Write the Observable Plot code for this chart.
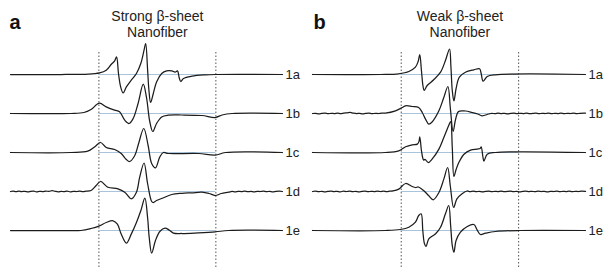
<!DOCTYPE html>
<html><head><meta charset="utf-8">
<script src="https://cdn.jsdelivr.net/npm/d3@7"></script>
<script src="https://cdn.jsdelivr.net/npm/@observablehq/plot@0.6"></script>
<style>
body{margin:0;background:#fff}
#wrap{display:flex;width:613px;height:277px;overflow:hidden}
</style>
</head><body><div id="wrap"></div>
<script>
// ---- data (field in arbitrary units 0–100, amplitude in a.u.) ----
const traceLabels = ["1a", "1b", "1c", "1d", "1e"];
const traceSpacing = 39;
const markerFields = [32.5, 75.5];
const panelLetters = ["a", "b"];
const panelTitles = ["Strong β-sheet\nNanofiber", "Weak β-sheet\nNanofiber"];

// Panel a: Strong β-sheet nanofiber
const strong1a = [[0,0],[18.5,0],[28.5,0.3],[32.7,1.6],[35.2,4.3],[37.0,10],[38.3,13.6],[39.0,17.6],[39.7,1],[40.5,-12.4],[41.4,-18.4],[42.6,-12.4],[44.4,-5.7],[46.3,1],[47.9,11],[49.1,24.3],[49.7,31],[50.4,5],[50.9,-16],[51.5,-28],[52.5,-19],[53.7,-7.4],[55.6,1],[57.4,3.6],[59.3,3.6],[60.5,2.4],[61.4,3.6],[62.0,-3],[62.6,-7],[63.6,-4],[66.7,-1.7],[71.6,-0.4],[75.3,0],[100,0]];
const strong1b = [[0,0],[22.2,0],[27.0,1],[29.6,4],[32.7,10.3],[35.2,6.6],[38.3,3.3],[40.1,1.7],[42.0,-6.7],[43.6,-10],[45.1,-5],[46.9,10],[48.8,29.3],[50.0,16],[51.2,-8],[52.3,-18],[53.7,-10],[55.6,-3.4],[58.0,-1.7],[63.0,-1.5],[70.4,-2],[75.3,-4],[77.8,-1.5],[81.5,0],[100,0]];
const strong1c = [[0,0],[22.2,0],[28.4,1.3],[30.9,5.6],[33.1,10],[35.2,5],[38.3,3],[40.7,-1],[42.6,-7],[43.8,-9],[45.7,-3],[47.1,9],[49.0,24],[50.6,7],[51.9,-11],[53.3,-15.4],[54.9,-4.4],[56.2,0],[58.0,-1],[69.1,-1],[75.3,-2.7],[79.0,0],[100,0]];
const strong1d = [[0,0],[1,0.3],[2,-0.2],[3.2,0.4],[4,-0.1],[5.3,0.2],[6.5,-0.4],[7.4,0.1],[8.6,0.3],[9.5,-0.3],[10.7,0.2],[11.8,-0.1],[13,0.4],[14.2,0.1],[15.3,0.9],[16.4,0.2],[17.5,-0.3],[18.7,0.2],[19.6,-0.2],[20.8,0.3],[22,-0.3],[23.1,0.2],[24.3,0],[25.4,0.4],[26.6,-0.1],[27.8,0.3],[29.6,1],[31.5,6],[33.1,10],[35.8,4.3],[39.5,2.7],[42.0,-0.7],[44.4,-7.3],[46.3,-0.7],[47.5,14.3],[49.1,28.5],[50.4,8],[51.9,-10],[52.5,-11],[53.7,-9],[55.6,-7],[59.3,-3],[63,-1.8],[66.7,-1.3],[70.4,-0.7],[73,-2],[75.3,-4],[77.5,-2],[80.2,-0.7],[81.4,0.1],[82.6,-0.3],[83.7,0.2],[84.9,-0.1],[86.1,0.3],[87.2,-0.2],[88.4,0.1],[89.5,-0.4],[90.7,0.2],[91.8,0],[93,0.3],[94.1,-0.2],[95.3,0.2],[96.4,-0.3],[97.6,0.1],[98.8,0.3],[100,0]];
const strong1e = [[0,0],[18.5,0],[25.9,0],[29.6,2],[32.7,4.7],[35.2,8],[37.7,9.7],[39.3,6.4],[40.7,-3.6],[42.6,-12.6],[44.4,-3.6],[46.3,8],[47.9,19.7],[49.4,32.4],[50.4,13],[51.0,-7],[51.9,-22.6],[53.3,-10],[54.9,-1],[56.8,2.4],[58.3,0.5],[59.9,-2.6],[63.0,-3],[69.1,-2.3],[75.3,-1.3],[80.2,0],[100,0]];

// Panel b: Weak β-sheet nanofiber
const weak1a = [[0,0],[24.9,0],[31.6,0.7],[35.3,3],[37.7,7.3],[38.7,13],[39.3,20],[39.9,4],[40.5,-12],[40.9,-16],[42.0,-11],[44.4,-5.3],[46.9,2.3],[48.7,14],[50.2,25.5],[50.7,8],[51.2,-16],[51.8,-26.5],[52.6,-14],[53.8,-2.7],[56.0,2.3],[59.1,4.7],[61.2,5.7],[61.8,0.7],[62.5,-6.7],[64.0,-2],[67.0,-0.3],[100,0]];
const weak1b = [[0,0],[1.1,0.2],[2.3,-0.3],[3.4,0.1],[4.6,0.3],[5.7,-0.2],[6.9,0.2],[8,-0.1],[9.2,0.3],[10.3,-0.2],[11.5,0.4],[12.6,0.6],[13.8,1.1],[14.9,0.4],[16.1,-0.1],[17.2,0.2],[18.4,-0.3],[19.5,0.1],[20.7,0.3],[21.8,-0.2],[23,0.2],[24.1,0],[25.3,0.3],[26.7,0.4],[30.4,2.7],[32.9,6],[34.1,7.7],[36.5,7],[38.9,6],[40.2,1],[41.4,-5.6],[42.6,-10.6],[43.8,-8.5],[46.3,2.7],[48.1,16],[49.6,27],[50.5,5],[51.5,-18],[52.4,-6],[53.5,2],[56.0,2.5],[58.5,1],[60.5,-0.5],[62.1,-2.3],[64.5,-0.5],[65.7,0.2],[66.9,-0.2],[68,0.3],[69.2,-0.1],[70.3,0.2],[71.5,-0.3],[72.6,0.1],[73.8,0.3],[74.9,-0.2],[76.1,0.2],[77.2,-0.1],[78.4,0.3],[79.5,-0.2],[80.7,0.1],[81.8,0.3],[83,-0.2],[84.1,0.2],[85.3,0],[86.4,0.3],[87.6,-0.2],[88.7,0.2],[89.9,-0.1],[91,0.3],[92.2,-0.2],[93.3,0.2],[94.5,0],[95.6,0.3],[96.8,-0.2],[97.9,0.2],[100,0.3]];
const weak1c = [[0,0],[26.7,0],[31.6,1.7],[34.1,5.7],[36.5,7.7],[38.4,8.4],[39.0,11],[39.3,15.7],[39.9,2],[40.4,-5.6],[40.7,-7.6],[41.2,-6.8],[42.4,-10],[43.8,-6.6],[46.3,3.4],[48.1,15],[49.9,27],[50.6,31],[51.2,5],[51.8,-24],[52.6,-17],[53.6,-10],[55.5,-1.7],[57.9,2.4],[60.3,3.4],[61.4,4],[61.8,5.7],[62.4,-4],[62.8,-8.6],[64.0,-1.7],[67.0,0],[100,0]];
const weak1d = [[0,0],[1.1,0.3],[2.2,-0.2],[3.4,0.2],[4.5,-0.3],[5.6,0.1],[6.8,0.4],[7.9,-0.1],[9,0.2],[10.2,-0.3],[11.3,0.3],[12.4,0],[13.6,0.4],[14.7,-0.2],[15.8,0.2],[17,-0.3],[18.1,0.1],[19.2,0.3],[20.4,-0.2],[21.5,0.2],[22.6,-0.1],[23.8,0.4],[24.9,0],[26,0.3],[27.2,-0.2],[28.3,0.3],[29.5,0.6],[31.6,2.4],[34.1,8],[36.5,5],[37.7,4],[38.8,4.5],[40.8,0.7],[42.6,-4.3],[44.2,-8.3],[46.3,-1],[48.1,12.4],[49.5,24],[50.5,5],[51.7,-16],[52.9,-7.3],[54.8,-2.3],[56.6,0.5],[57.7,-0.1],[58.9,0.3],[60,-0.2],[61.1,0.2],[62.3,-0.3],[63.4,0.1],[64.5,0.3],[65.7,-0.2],[66.8,0.2],[67.9,-0.1],[69.1,0.3],[70.2,-0.2],[71.3,0.1],[72.5,0.3],[73.6,-0.2],[74.7,0.2],[75.9,-0.3],[77,0.1],[78.1,0.3],[79.3,-0.1],[80.4,0.2],[81.5,-0.2],[82.7,0.3],[83.8,0],[84.9,0.2],[86.1,-0.3],[87.2,0.2],[88.3,0],[89.5,0.3],[90.6,-0.2],[91.7,0.2],[92.9,-0.1],[94,0.3],[95.1,-0.2],[96.3,0.2],[97.4,0],[98.5,0.3],[100,0.1]];
const weak1e = [[0,0],[26.7,0],[32.2,1],[35.3,3.3],[37.7,8.3],[38.9,15],[39.8,16.7],[40.4,0],[41.0,-13],[41.6,-16],[42.6,-8.3],[45.1,-3.3],[46.9,3.3],[48.7,16.7],[49.9,25],[50.6,5],[51.2,-15],[51.8,-21.7],[52.6,-10],[54.2,-1.7],[56.7,4],[59.1,6],[60.3,0.7],[61.5,-4],[63.4,-2.7],[67.0,-1],[75.6,0],[100,0]];

const strongTraces = [strong1a, strong1b, strong1c, strong1d, strong1e];
const weakTraces = [weak1a, weak1b, weak1c, weak1d, weak1e];

const FONT = "'Liberation Sans', Arial, Helvetica, sans-serif";

function panel(p, traces, width, ml, mr, letterDx) {
  const rows = traces.flatMap((pts, k) =>
    pts.map(([f, a]) => ({trace: traceLabels[k], field: f, v: (traces.length - 1 - k) * traceSpacing + a})));
  const offsets = traceLabels.map((t, k) => ({trace: t, v: (traceLabels.length - 1 - k) * traceSpacing}));
  return Plot.plot({
    width, height: 277,
    marginLeft: ml, marginRight: mr, marginTop: 0, marginBottom: 0,
    style: {fontFamily: FONT, background: "#fff", overflow: "visible"},
    x: {domain: [0, 100], axis: null},
    y: {domain: [-47, 230], axis: null},
    marks: [
      Plot.ruleX(markerFields, {x: d => d, y1: -37, y2: 178, stroke: "#555", strokeWidth: 1, strokeDasharray: "1.5,2"}),
      Plot.ruleY(offsets, {y: "v", x1: markerFields[0], x2: markerFields[1], stroke: "#a8c3da", strokeWidth: 1.2}),
      Plot.line(rows, {x: "field", y: "v", z: "trace", stroke: "#1c1c1c", strokeWidth: 1.25, curve: "catmull-rom"}),
      Plot.text(offsets, {x: 100, y: "v", text: "trace", dx: 3, textAnchor: "start", fontSize: 13, fill: "#222"}),
      Plot.text([panelTitles[p]], {x: (markerFields[0] + markerFields[1]) / 2, frameAnchor: "top", dy: 36, lineAnchor: "bottom", lineHeight: 1.1, fontSize: 14, fill: "#222"}),
      Plot.text([panelLetters[p]], {frameAnchor: "top-left", dx: letterDx, dy: 28, lineAnchor: "bottom", textAnchor: "start", fontSize: 20, fontWeight: "bold", fill: "#111"})
    ]
  });
}

const wrap = document.getElementById("wrap");
wrap.append(panel(0, strongTraces, 306, 10, 24, -1));
wrap.append(panel(1, weakTraces, 307, 6, 28, 1));
</script>
</body></html>
